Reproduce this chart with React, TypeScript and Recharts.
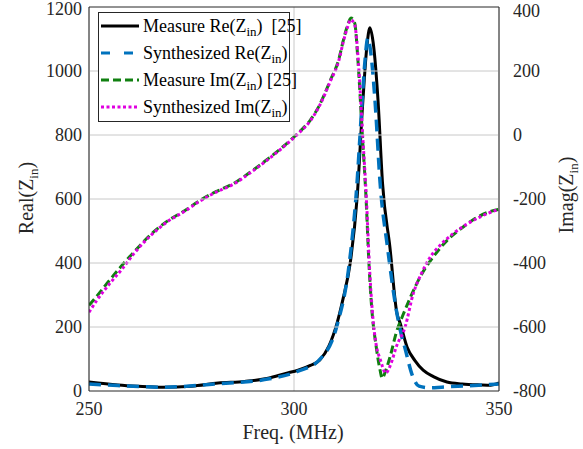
import { LineChart, Line, XAxis, YAxis, CartesianGrid, ReferenceLine } from "recharts";

const FONT = '"Liberation Serif", "Times New Roman", serif';
const INK = "#262626";
const GRID = "#c8c8c8";
const PLOT_W = 410;

// frequency axis (MHz)
const freqTicks = [250, 300, 350];
const reTicks = [0, 200, 400, 600, 800, 1000, 1200];
const imTicks = [-800, -600, -400, -200, 0, 200, 400];

// measured Re(Zin) [25]
const reMeasF = [250, 257, 262, 268, 275, 281.5, 288, 293.7, 298, 301, 304, 306.3, 308.5, 310.5, 312, 313.7, 315.4, 316.8, 317.8, 318.5, 319.3, 320.5, 321.6, 323.4, 325.1, 325.9, 327.6, 329.5, 331.5, 334, 337.3, 341, 345.4, 348, 350];
const reMeasV = [28, 19, 15, 12, 15, 25, 30, 40, 55, 65, 80, 97, 140, 212, 290, 399, 605, 907, 1080, 1135, 1090, 907, 648, 449, 243, 212, 137, 95, 65, 45, 28, 22, 19, 18, 25];

// synthesized Re(Zin)
const reSynF = [250, 257, 268, 281, 294, 301, 306, 310.5, 313.5, 315.2, 316.6, 317.3, 318, 318.7, 319.8, 321, 322.8, 325, 326.2, 327, 329, 330.5, 333, 336, 340, 345, 350];
const reSynV = [22, 17, 12, 22, 38, 62, 95, 205, 400, 620, 900, 1030, 1103, 1060, 900, 650, 450, 250, 175, 137, 44, 15, 10, 12, 15, 18, 22];

// measured Im(Zin) [25]
const imMeasF = [250, 251.5, 254, 257, 261, 265.4, 269, 273.4, 277, 280, 285.6, 290, 293.7, 297, 299.5, 301.5, 303.9, 306, 308.8, 311, 312, 313, 313.9, 314.8, 315.6, 316.6, 317.6, 318.3, 319, 320, 321, 321.5, 322.4, 323.5, 325, 326.5, 328.3, 330.7, 333.9, 337.3, 340.5, 343.7, 347, 350];
const imMeasV = [-532, -510, -470, -423, -365, -307, -270, -236, -205, -183, -149, -110, -74, -40, -12, 12, 45, 88, 169, 240, 294, 340, 366, 350, 232, 14, -205, -407, -548, -657, -735, -760, -735, -690, -615, -565, -510, -445, -382, -330, -295, -265, -243, -232];

// synthesized Im(Zin)
const imSynF = [250, 252, 255, 258, 261, 265.4, 269, 273.4, 277, 280, 285.6, 290, 293.7, 297, 299.5, 301.5, 303.9, 306, 308.8, 311, 312, 313, 313.8, 314.8, 315.7, 316.7, 317.7, 318.4, 319.1, 320.1, 321, 322.4, 323.5, 325, 327.1, 329.1, 331, 333.2, 336, 338.8, 342, 346, 350];
const imSynV = [-554, -515, -465, -420, -370, -310, -272, -238, -207, -185, -151, -112, -76, -42, -14, 10, 43, 86, 166, 236, 290, 335, 360, 345, 228, 10, -210, -410, -550, -660, -700, -744, -720, -660, -600, -495, -435, -382, -340, -308, -280, -252, -232];

const zip = (fs: number[], vs: number[]) => fs.map((f, i) => ({ f, v: vs[i] }));

const reMeas = zip(reMeasF, reMeasV);
const reSyn = zip(reSynF, reSynV);
const imMeas = zip(imMeasF, imMeasV);
const imSyn = zip(imSynF, imSynV);

const tick = { fontSize: 18, fill: INK, fontFamily: FONT };

// left tick: label plus the horizontal grid line at the same y
function ReTick(props: any) {
  const { x, y, payload } = props;
  const v = payload.value;
  return (
    <g>
      {v !== 0 && v !== 1200 && (
        <line x1={x + 8} x2={x + 6 + PLOT_W} y1={y} y2={y} stroke={GRID} strokeWidth={1} strokeOpacity={1} />
      )}
      <text x={x} y={y} dy="0.355em" textAnchor="end" fontSize={18} fill={INK} fontFamily={FONT}>
        {v}
      </text>
    </g>
  );
}

const legendRows = [
  { label: "Measure Re(Z", tail: ")\u00a0\u00a0[25]", color: "#000000", dash: "" },
  { label: "Synthesized Re(Z", tail: ")", color: "#0072BD", dash: "9 14" },
  { label: "Measure Im(Z", tail: ") [25]", color: "#108010", dash: "8 4" },
  { label: "Synthesized Im(Z", tail: ")", color: "#E000E0", dash: "3 2.5" },
];

function Legend() {
  return (
    <div
      style={{
        position: "absolute",
        left: 98,
        top: 12,
        width: 190,
        height: 108,
        background: "#fff",
        border: `1px solid ${INK}`,
        fontFamily: FONT,
        fontSize: 18,
        color: "#000",
      }}
    >
      {legendRows.map((r, i) => (
        <div key={r.label} style={{ position: "absolute", left: 0, top: 1 + i * 27, height: 24, display: "flex", alignItems: "center", whiteSpace: "nowrap" }}>
          <svg width={42} height={10} style={{ marginRight: 2 }}>
            <line x1={2} y1={5} x2={40} y2={5} stroke={r.color} strokeWidth={3} strokeDasharray={r.dash || undefined} />
          </svg>
          <span>
            {r.label}
            <sub style={{ fontSize: 13, verticalAlign: "-0.3em", lineHeight: 0 }}>in</sub>
            {r.tail}
          </span>
        </div>
      ))}
    </div>
  );
}

function Titles() {
  return (
    <svg width={583} height={449} style={{ position: "absolute", left: 0, top: 0, pointerEvents: "none" }}>
      <text x={293} y={439} textAnchor="middle" fontFamily={FONT} fontSize={20} fill={INK}>
        Freq. (MHz)
      </text>
      <text x={0} y={0} transform="translate(33 198) rotate(-90)" textAnchor="middle" fontFamily={FONT} fontSize={20} fill={INK}>
        Real(Z<tspan fontSize={13} dy={5}>in</tspan>
        <tspan dy={-5}>)</tspan>
      </text>
      <text x={0} y={0} transform="translate(573 195) rotate(-90)" textAnchor="middle" fontFamily={FONT} fontSize={20} fill={INK}>
        Imag(Z<tspan fontSize={13} dy={5}>in</tspan>
        <tspan dy={-5}>)</tspan>
      </text>
    </svg>
  );
}

export default function App() {
  return (
    <div style={{ position: "absolute", left: 0, top: 0, width: 583, height: 449, background: "#fff", fontFamily: FONT }}>
      <LineChart width={583} height={449} margin={{ top: 7, right: 0, bottom: 0, left: 0 }} style={{ fontFamily: FONT }}>
        <CartesianGrid horizontal={false} stroke={GRID} />
        <XAxis
          dataKey="f"
          type="number"
          domain={[250, 350]}
          ticks={freqTicks}
          height={58}
          tickSize={0}
          tickMargin={11}
          tick={tick}
          stroke={INK}
          allowDataOverflow
        />
        <YAxis
          orientation="left"
          domain={[0, 1200]}
          ticks={reTicks}
          width={89}
          tickSize={0}
          tickMargin={7}
          tick={<ReTick />}
          stroke={INK}
        />
        <YAxis
          yAxisId="im"
          orientation="right"
          domain={[-800, 400]}
          ticks={imTicks}
          width={84}
          tickSize={0}
          tickMargin={14}
          tick={tick}
          stroke={INK}
        />
        <ReferenceLine y={1200} stroke={INK} />
        <Line data={reMeas} dataKey="v" type="monotone" stroke="#000000" strokeWidth={3} dot={false} isAnimationActive={false} />
        <Line data={reSyn} dataKey="v" type="monotone" stroke="#0072BD" strokeWidth={3.5} strokeDasharray="12 7" dot={false} isAnimationActive={false} />
        <Line yAxisId="im" data={imMeas} dataKey="v" type="monotone" stroke="#108010" strokeWidth={3} strokeDasharray="8 4" dot={false} isAnimationActive={false} />
        <Line yAxisId="im" data={imSyn} dataKey="v" type="monotone" stroke="#E000E0" strokeWidth={3} strokeDasharray="3 2.5" dot={false} isAnimationActive={false} />
      </LineChart>
      <Legend />
      <Titles />
    </div>
  );
}
